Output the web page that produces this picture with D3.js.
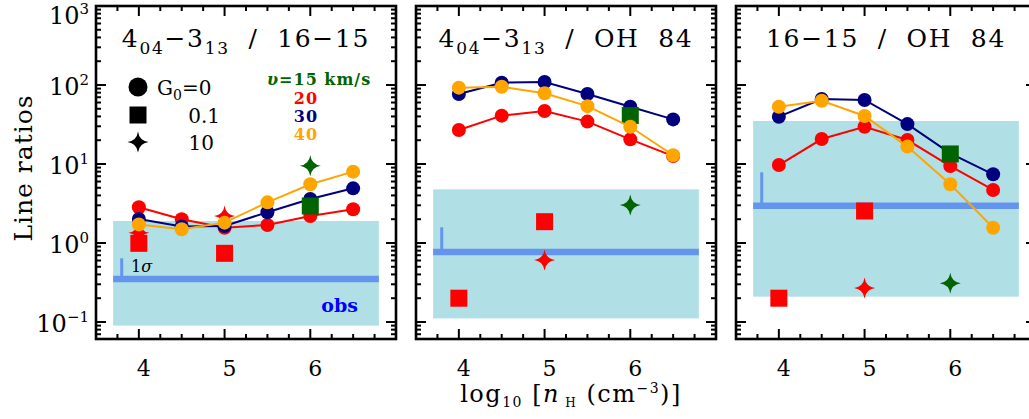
<!DOCTYPE html>
<html><head><meta charset="utf-8">
<script src="https://cdn.jsdelivr.net/npm/d3@7"></script>
<style>
body{margin:0;background:#fff;}
svg{display:block;}
text{font-family:"DejaVu Serif",serif;fill:#000;}
</style>
</head><body>
<svg id="chart" width="1029" height="419"></svg>
<script>
// ---------------- DATA ----------------
const densities = [4, 4.5, 5, 5.5, 6, 6.5];
const xTickValues = [4, 5, 6];
const yTickExponents = [-1, 0, 1, 2, 3];

// G0 = 0 model circles, per panel, per velocity
const p1_v20 = [2.83, 2.0, 1.56, 1.69, 2.2, 2.67];
const p1_v30 = [2.01, 1.62, 1.64, 2.45, 3.6, 4.92];
const p1_v40 = [1.72, 1.49, 1.81, 3.27, 5.53, 8.0];
const p2_v20 = [26.9, 40.9, 46.9, 34.4, 20.5, 12.6];
const p2_v30 = [76.9, 107, 109, 77, 53, 36.7];
const p2_v40 = [92.5, 95, 78.5, 54, 29.6, 12.9];
const p3_v20 = [9.7, 20.7, 29.6, 20.1, 9.4, 4.69];
const p3_v30 = [39.7, 66.5, 64.6, 32, 13.6, 7.4];
const p3_v40 = [53, 63.3, 40.5, 16.6, 5.53, 1.56];

// G0 = 0.1 squares (v=20 red at nH 4 and 5; v=15 green at nH 6)
const squareDensRed = [4, 5];
const p1_sqRed = [0.99, 0.74];
const p2_sqRed = [0.2, 1.86];
const p3_sqRed = [0.2, 2.54];
const squareDensGreen = 6;
const sqGreen = [2.94, 41, 13.4];

// G0 = 10 stars
const starDensRed = [4, 5];
const p1_starRed = [1.35, 2.2];
const p2_starRed = [null, 0.61];
const p3_starRed = [null, 0.27];
const starDensGreen = 6;
const starGreen = [9.5, 3.03, 0.31];

// observations: band low, band high, value, 1-sigma top
const obsLow = [0.09, 0.111, 0.209];
const obsHigh = [1.9, 4.78, 35];
const obsValue = [0.35, 0.77, 2.97];
const obsSigmaTop = [0.64, 1.58, 7.85];
const obsRange = [3.7, 6.8];
const sigmaX = 3.8;

// titles (segments: text, subscript flag)
const titles = [
  [["4",0],["04",1],["\u22123",0],["13",1],[" / 16\u221215",0]],
  [["4",0],["04",1],["\u22123",0],["13",1],[" / OH 84",0]],
  [["16\u221215 / OH 84",0]]
];
const velocityLabels = ["\u03c5=15 km/s", "20", "30", "40"];
const g0Labels = ["0", "0.1", "10"];

// ---------------- STYLE / LAYOUT ----------------
const colors = {v15:"#006400", v20:"#ff0000", v30:"#00007f", v40:"#ffa500",
  band:"#b0e0e6", obs:"#6495ed", obsText:"#0000ff"};
const panelLefts = [96, 416, 736];
const topY = 6, W = 300, H = 333;

const circleSeries = [
  [p1_v20, p1_v30, p1_v40],
  [p2_v20, p2_v30, p2_v40],
  [p3_v20, p3_v30, p3_v40]
];
const sqRed = [p1_sqRed, p2_sqRed, p3_sqRed];
const starRed = [p1_starRed, p2_starRed, p3_starRed];
const seriesColors = [colors.v20, colors.v30, colors.v40];

const svg = d3.select("#chart");
const x = d3.scaleLinear().domain([3.5, 7.0]).range([0, W]);
const y = d3.scaleLog().domain([0.0609, 1000]).range([H, 0]);

function starPath(r){
  const c = r*0.12;
  return `M0,${-r}Q${c},${-c} ${r},0Q${c},${c} 0,${r}Q${-c},${c} ${-r},0Q${-c},${-c} 0,${-r}Z`;
}

// minor ticks
const yMinor = [];
for (let e = -2; e <= 2; e++) for (let m = 2; m <= 9; m++) {
  const v = m*Math.pow(10,e);
  if (v > y.domain()[0] && v < 1000) yMinor.push(v);
}
const xMinor = d3.range(3.75, 7.0, 0.25).filter(v => !xTickValues.includes(v));

panelLefts.forEach((left, pi) => {
  const g = svg.append("g").attr("transform", `translate(${left},${topY})`);
  const clip = "clip"+pi;
  g.append("clipPath").attr("id", clip).append("rect").attr("width", W).attr("height", H);
  const plot = g.append("g").attr("clip-path", `url(#${clip})`);

  // obs band
  plot.append("rect")
    .attr("x", x(obsRange[0])).attr("width", x(obsRange[1]) - x(obsRange[0]))
    .attr("y", y(obsHigh[pi])).attr("height", y(obsLow[pi]) - y(obsHigh[pi]))
    .attr("fill", colors.band);
  plot.append("line")
    .attr("x1", x(obsRange[0])).attr("x2", x(obsRange[1]))
    .attr("y1", y(obsValue[pi])).attr("y2", y(obsValue[pi]))
    .attr("stroke", colors.obs).attr("stroke-width", 6.5);
  plot.append("line")
    .attr("x1", x(sigmaX)).attr("x2", x(sigmaX))
    .attr("y1", y(obsValue[pi])).attr("y2", y(obsSigmaTop[pi]))
    .attr("stroke", colors.obs).attr("stroke-width", 3);

  const line = d3.line().x((d,i) => x(densities[i])).y(d => y(d));
  function drawSeries(si){
    const data = circleSeries[pi][si];
    plot.append("path").datum(data).attr("d", line)
      .attr("fill", "none").attr("stroke", seriesColors[si]).attr("stroke-width", 2);
    plot.selectAll(null).data(data).enter().append("circle")
      .attr("cx", (d,i) => x(densities[i])).attr("cy", d => y(d)).attr("r", 7)
      .attr("fill", seriesColors[si]);
  }
  drawSeries(0);
  drawSeries(1);

  // squares
  const sq = 17;
  sqRed[pi].forEach((v,i) => {
    if (v == null) return;
    plot.append("rect").attr("x", x(squareDensRed[i]) - sq/2).attr("y", y(v) - sq/2)
      .attr("width", sq).attr("height", sq).attr("fill", colors.v20);
  });
  plot.append("rect").attr("x", x(squareDensGreen) - sq/2).attr("y", y(sqGreen[pi]) - sq/2)
    .attr("width", sq).attr("height", sq).attr("fill", colors.v15);
  // stars
  starRed[pi].forEach((v,i) => {
    if (v == null) return;
    plot.append("path").attr("d", starPath(10.5))
      .attr("transform", `translate(${x(starDensRed[i])},${y(v)})`).attr("fill", colors.v20);
  });
  plot.append("path").attr("d", starPath(10.5))
    .attr("transform", `translate(${x(starDensGreen)},${y(starGreen[pi])})`).attr("fill", colors.v15);

  drawSeries(2);

  // frame
  g.append("rect").attr("width", W).attr("height", H)
    .attr("fill", "none").attr("stroke", "#000").attr("stroke-width", 2.6);

  // y ticks (left and right, inward)
  const tk = g.append("g").attr("stroke", "#000").attr("stroke-width", 2);
  yTickExponents.forEach(e => {
    const yy = y(Math.pow(10,e));
    tk.append("line").attr("x1", 0).attr("x2", 10).attr("y1", yy).attr("y2", yy);
    tk.append("line").attr("x1", W).attr("x2", W-10).attr("y1", yy).attr("y2", yy);
  });
  yMinor.forEach(v => {
    const yy = y(v);
    tk.append("line").attr("x1", 0).attr("x2", 5).attr("y1", yy).attr("y2", yy);
    tk.append("line").attr("x1", W).attr("x2", W-5).attr("y1", yy).attr("y2", yy);
  });
  // x ticks (bottom and top, inward)
  xTickValues.forEach(v => {
    const xx = x(v);
    tk.append("line").attr("x1", xx).attr("x2", xx).attr("y1", H).attr("y2", H-10);
    tk.append("line").attr("x1", xx).attr("x2", xx).attr("y1", 0).attr("y2", 10);
  });
  xMinor.forEach(v => {
    const xx = x(v);
    tk.append("line").attr("x1", xx).attr("x2", xx).attr("y1", H).attr("y2", H-5);
    tk.append("line").attr("x1", xx).attr("x2", xx).attr("y1", 0).attr("y2", 5);
  });

  // x tick labels
  xTickValues.forEach(v => {
    g.append("text").attr("x", x(v) + 5).attr("y", 376 - topY)
      .attr("text-anchor", "middle").attr("font-size", 22).text(v);
  });

  // y tick labels only in first panel
  if (pi === 0) {
    yTickExponents.forEach(e => {
      const yy = Math.max(y(Math.pow(10,e)) + 1, 9);
      const t = g.append("text").attr("x", -7).attr("y", yy + 9)
        .attr("text-anchor", "end").attr("font-size", 24);
      t.append("tspan").text("10");
      t.append("tspan").attr("font-size", 15).attr("dy", -10)
        .text(e < 0 ? "\u2212" + Math.abs(e) : e);
    });
  }

  // title
  const tt = g.append("text").attr("x", W/2).attr("y", 47 - topY)
    .attr("text-anchor", "middle").attr("font-size", 25)
    .attr("letter-spacing", 1.7).attr("word-spacing", 9);
  let prevSub = false;
  titles[pi].forEach(([s, sub]) => {
    const ts = tt.append("tspan").text(s);
    if (sub) { ts.attr("font-size", 17).attr("dy", 7); prevSub = true; }
    else if (prevSub) { ts.attr("dy", -7); prevSub = false; }
  });
});

// legend (panel 1)
const lg = svg.append("g");
const legendShapesY = [87, 115, 142];
lg.append("circle").attr("cx", 138).attr("cy", legendShapesY[0]).attr("r", 9.5).attr("fill", "#000");
lg.append("rect").attr("x", 138-8.5).attr("y", legendShapesY[1]-8.5).attr("width", 17).attr("height", 17).attr("fill", "#000");
lg.append("path").attr("d", starPath(10.5)).attr("transform", `translate(138,${legendShapesY[2]})`).attr("fill", "#000");
const gt = lg.append("text").attr("x", 157).attr("y", 95).attr("font-size", 20);
gt.append("tspan").text("G");
gt.append("tspan").attr("font-size", 14).attr("dy", 5).text("0");
gt.append("tspan").attr("dy", -5).text("=" + g0Labels[0]);
lg.append("text").attr("x", 220).attr("y", 123).attr("text-anchor", "end").attr("font-size", 20).text(g0Labels[1]);
lg.append("text").attr("x", 214).attr("y", 150).attr("text-anchor", "end").attr("font-size", 20).text(g0Labels[2]);

const vColors = [colors.v15, colors.v20, colors.v30, colors.v40];
const vY = [85, 104, 122, 140];
velocityLabels.forEach((s,i) => {
  const t = lg.append("text").attr("font-size", 16).attr("font-weight", "bold")
    .style("fill", vColors[i]).attr("y", vY[i]);
  if (i === 0) {
    t.attr("x", 267).attr("text-anchor", "start").attr("letter-spacing", 1);
    t.append("tspan").attr("font-style", "italic").text(s[0]);
    t.append("tspan").text(s.slice(1));
  } else {
    t.attr("x", 306).attr("text-anchor", "middle").attr("letter-spacing", 1).text(s);
  }
});

// 1 sigma and obs labels (panel 1)
const sg = lg.append("text").attr("x", 131).attr("y", 272).attr("font-size", 16);
sg.append("tspan").text("1");
sg.append("tspan").attr("font-style", "italic").text("\u03c3");
lg.append("text").attr("x", 358).attr("y", 312).attr("text-anchor", "end")
  .attr("font-size", 19).attr("font-weight", "bold").style("fill", colors.obsText).text("obs");

// axis labels
svg.append("text").attr("transform", "translate(32,168) rotate(-90)")
  .attr("text-anchor", "middle").attr("font-size", 25).attr("letter-spacing", 1).text("Line ratios");

const xl = svg.append("text").attr("x", 571).attr("y", 402).attr("text-anchor", "middle")
  .attr("font-size", 24).attr("letter-spacing", 1.5);
xl.append("tspan").text("log");
xl.append("tspan").attr("font-size", 14).attr("dy", 5).text("10");
xl.append("tspan").attr("dy", -5).text(" [");
xl.append("tspan").attr("font-style", "italic").text("n");
xl.append("tspan").attr("font-size", 12).attr("dy", 5).text(" H");
xl.append("tspan").attr("dy", -5).text(" (cm");
xl.append("tspan").attr("font-size", 14).attr("dy", -9).text("\u22123");
xl.append("tspan").attr("dy", 9).text(")]");
</script>
</body></html>
